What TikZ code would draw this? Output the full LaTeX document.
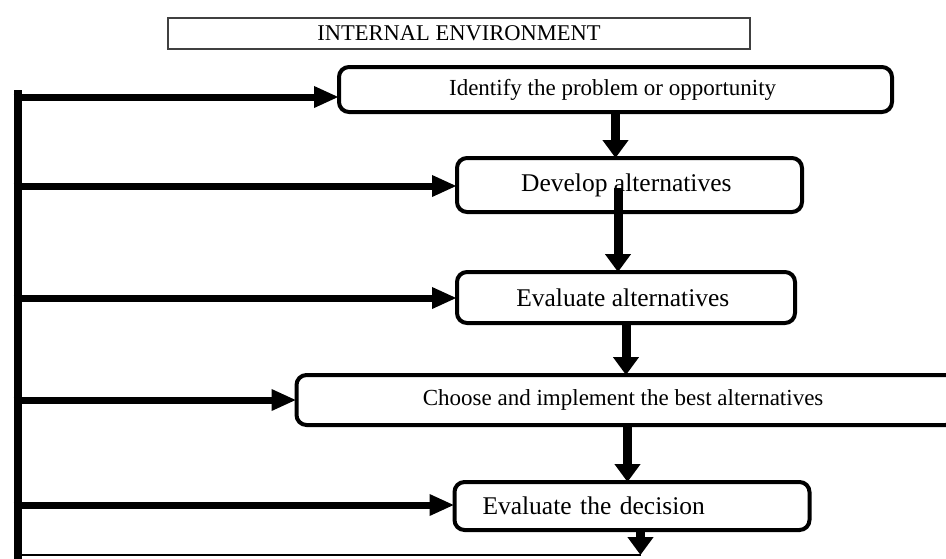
\documentclass[tikz,border=0pt]{standalone}
\usepackage{fontspec}
\setmainfont{Liberation Serif}
\usetikzlibrary{positioning}
\usetikzlibrary{arrows.meta}
\tikzset {
        stepnode/.style={align=center, rectangle, rounded corners=10pt, draw=black, line width=4pt, outer sep=0pt, inner sep=0pt},
        envnode/.style={rectangle, draw=black!75, line width=1.2pt, outer sep=0pt, inner sep=0pt, minimum width=582pt, minimum height=31pt},
        feedback/.style={line width=7pt, -{Triangle[length=25pt,width=20pt]}},
        flow/.style={line width=9pt, -{Triangle[length=18pt,width=25pt]}},
        default/.style={}
}

\begin{document}
\begin{tikzpicture}[x=1pt, y=-1pt]
            \useasboundingbox (0,0) rectangle (946,558);
            \node[envnode, font=\fontsize{22.5}{26}\selectfont] (InternalEnvironment) at (459,33.5) {
                INTERNAL ENVIRONMENT
            };
            \node[stepnode, minimum width=553pt, minimum height=45pt, font=\fontsize{23}{27}\selectfont] (IdentifyProblem) at (615.5,89.5) {
                Identify the problem or opportunity
            };
            \node[below=46pt of IdentifyProblem, xshift=14pt, stepnode, minimum width=345pt, minimum height=54pt, font=\fontsize{25.5}{30}\selectfont] (DevelopAlternatives) {
                Develop alternatives
            };
            \node[below=60pt of DevelopAlternatives, xshift=-3.5pt, stepnode, minimum width=338pt, minimum height=51pt, font=\fontsize{25.5}{30}\selectfont] (EvaluateAlternatives) {
                Evaluate alternatives
            };
            \node[below=52pt of EvaluateAlternatives, stepnode, minimum width=659pt, minimum height=50pt, font=\fontsize{23}{27}\selectfont] (ChooseBest) {
                Choose and implement the best alternatives
            };
            \node[below=57pt of ChooseBest, xshift=6pt, stepnode, align=left, text width=299pt, inner xsep=28pt, minimum height=48pt, font=\fontsize{25.5}{30}\selectfont] (EvaluateDecision) {
                Evaluate the decision
            };

            % feedback line on the left
            \coordinate (TrunkTop) at (17.5,90);
            \coordinate (TrunkBottom) at (17.5,560);
            \coordinate (FeedIdentify) at (13.5,97);
            \coordinate (FeedDevelop) at (13.5,186);
            \coordinate (FeedEvaluate) at (13.5,298);
            \coordinate (FeedChoose) at (13.5,400);
            \coordinate (FeedDecision) at (13.5,505);
            \coordinate (BottomLeft) at (17.5,555);
            \coordinate (DecisionOut) at ([xshift=8.5pt]EvaluateDecision.south);

            \draw[line width=8pt] (TrunkTop) -- (TrunkBottom);
            \draw[feedback] (FeedIdentify) -- (FeedIdentify -| IdentifyProblem.west);
            \draw[feedback] (FeedDevelop) -- (FeedDevelop -| DevelopAlternatives.west);
            \draw[feedback] (FeedEvaluate) -- (FeedEvaluate -| EvaluateAlternatives.west);
            \draw[feedback] (FeedChoose) -- (FeedChoose -| ChooseBest.west);
            \draw[feedback] (FeedDecision) -- (FeedDecision -| EvaluateDecision.west);
            \draw[line width=2pt] (BottomLeft) -- (BottomLeft -| DecisionOut);

            % steps
            \draw[flow] (IdentifyProblem.south) -- (IdentifyProblem.south |- DevelopAlternatives.north);
            \draw[flow] ([xshift=-11.5pt, yshift=-3pt]DevelopAlternatives.center) -- ([xshift=-11.5pt]DevelopAlternatives.center |- EvaluateAlternatives.north);
            \draw[flow] (EvaluateAlternatives.south) -- (EvaluateAlternatives.south |- ChooseBest.north);
            \draw[flow] ([xshift=1.5pt]ChooseBest.south) -- ([xshift=1.5pt]ChooseBest.south |- EvaluateDecision.north);
            \draw[flow] (DecisionOut) -- (DecisionOut |- BottomLeft);
        \end{tikzpicture}
\end{document}
